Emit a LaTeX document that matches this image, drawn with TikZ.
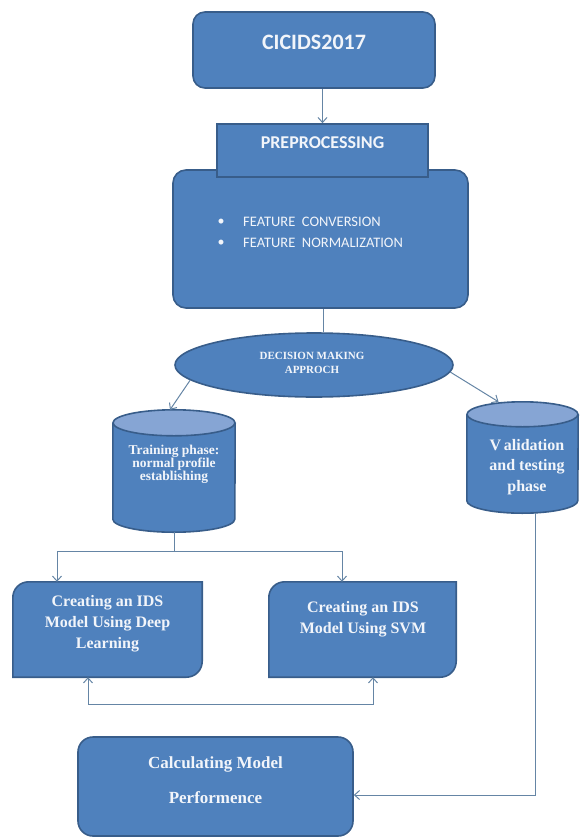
\documentclass[tikz,border=0pt]{standalone}
\usepackage{fontspec}
\setmainfont{Liberation Serif}
\newfontfamily\calib{Carlito}
\usetikzlibrary{arrows.meta,shapes.geometric,calc}
\definecolor{fillc}{HTML}{4F81BD}
\definecolor{bordc}{HTML}{385D8A}
\definecolor{topc}{HTML}{86A5D4}
\definecolor{linec}{HTML}{6585A5}
\definecolor{txtc}{HTML}{F2F5FA}
\begin{document}
\begin{tikzpicture}[x=1pt,y=-1pt,
  box/.style={draw=bordc, fill=fillc, line width=1.6pt, inner sep=0pt},
  shapebox/.style={inner sep=0pt, draw=none},
  conn/.style={draw=linec, line width=1pt},
  arr/.style={conn, -{Straight Barb[length=5pt,width=9pt]}},
  biarr/.style={conn, {Straight Barb[length=5pt,width=9pt]}-{Straight Barb[length=5pt,width=9pt]}},
  lbl/.style={text=txtc, align=center, inner sep=0pt},
  sanslbl/.style={lbl, font=\calib\bfseries\fontsize{22}{26}\selectfont},
  serlbl/.style={lbl, font=\bfseries\fontsize{16}{21}\selectfont},
]
\useasboundingbox (0,0) rectangle (579,838);

% top boxes
\node[box, rounded corners=12pt, minimum width=242pt, minimum height=76pt] (cic) at (314,50) {};
\node[sanslbl] (cict) at (314,42) {CICIDS2017};

\node[box, rounded corners=13pt, minimum width=295pt, minimum height=138pt] (big) at (320.5,239) {};
\node[box, minimum width=211pt, minimum height=53pt] (pre) at (322.5,150.5) {};
\node[sanslbl, font=\calib\bfseries\fontsize{18}{22}\selectfont] (pret) at (322.5,143) {PREPROCESSING};

\node[lbl, font=\calib\fontsize{14}{16}\selectfont] (b1) at (221,222) {•};
\node[lbl, font=\calib\fontsize{14}{16}\selectfont] (b2) at (221,243) {•};
\node[lbl, anchor=west, font=\calib\fontsize{14.5}{16}\selectfont] (f1) at (243,222) {FEATURE\ \ CONVERSION};
\node[lbl, anchor=west, font=\calib\fontsize{14.5}{16}\selectfont] (f2) at (243,243) {FEATURE\ \ NORMALIZATION};

% decision ellipse
\node[box, ellipse, minimum width=278pt, minimum height=64pt] (ell) at (314,365) {};
\node[lbl, font=\bfseries\fontsize{11}{14}\selectfont] (ellt) at (312,363) {DECISION MAKING\\APPROCH};

% cylinders
\node[shapebox, minimum width=122pt, minimum height=122pt] (trn) at (174,471) {};
\fill[fillc] ([yshift=-13pt]trn.north west) -- ([yshift=13pt]trn.south west)
  arc[start angle=180, end angle=360, x radius=61pt, y radius=13pt]
  -- ([yshift=-13pt]trn.north east) -- cycle;
\draw[draw=bordc, line width=1.6pt] ([yshift=-13pt]trn.north west) -- ([yshift=13pt]trn.south west)
  arc[start angle=180, end angle=360, x radius=61pt, y radius=13pt]
  -- ([yshift=-13pt]trn.north east);
\draw[draw=bordc, fill=topc, line width=1.6pt] ([yshift=-13pt]trn.north) ellipse[x radius=61pt, y radius=13pt];
\node[lbl, font=\bfseries\fontsize{13.5}{13}\selectfont] (trnt) at (174,464) {Training phase:\\normal profile\\establishing};

\node[shapebox, minimum width=111pt, minimum height=111pt] (val) at (522.5,457.5) {};
\fill[fillc] ([yshift=-12.5pt]val.north west) -- ([yshift=12.5pt]val.south west)
  arc[start angle=180, end angle=360, x radius=55.5pt, y radius=12.5pt]
  -- ([yshift=-12.5pt]val.north east) -- cycle;
\draw[draw=bordc, line width=1.6pt] ([yshift=-12.5pt]val.north west) -- ([yshift=12.5pt]val.south west)
  arc[start angle=180, end angle=360, x radius=55.5pt, y radius=12.5pt]
  -- ([yshift=-12.5pt]val.north east);
\draw[draw=bordc, fill=topc, line width=1.6pt] ([yshift=-12.5pt]val.north) ellipse[x radius=55.5pt, y radius=12.5pt];
\node[serlbl, font=\bfseries\fontsize{16}{20.5}\selectfont] (valt) at (527,467) {V\,alidation\\and testing\\phase};

% model boxes (diagonal rounded corners)
\node[shapebox, minimum width=189pt, minimum height=95pt] (dl) at (107.5,629.5) {};
\draw[box] (dl.south west) -- ([yshift=-16pt]dl.north west)
  .. controls ([yshift=-7pt]dl.north west) and ([xshift=7pt]dl.north west) .. ([xshift=16pt]dl.north west)
  -- (dl.north east) -- ([yshift=16pt]dl.south east)
  .. controls ([yshift=7pt]dl.south east) and ([xshift=-7pt]dl.south east) .. ([xshift=-16pt]dl.south east) -- cycle;
\node[serlbl] (dlt) at (107.5,624) {Creating an IDS\\Model Using Deep\\Learning};

\node[shapebox, minimum width=187pt, minimum height=95pt] (svm) at (362.5,629.5) {};
\draw[box] (svm.south west) -- ([yshift=-16pt]svm.north west)
  .. controls ([yshift=-7pt]svm.north west) and ([xshift=7pt]svm.north west) .. ([xshift=16pt]svm.north west)
  -- (svm.north east) -- ([yshift=16pt]svm.south east)
  .. controls ([yshift=7pt]svm.south east) and ([xshift=-7pt]svm.south east) .. ([xshift=-16pt]svm.south east) -- cycle;
\node[serlbl] (svmt) at (363,619.5) {Creating an IDS\\Model Using SVM};

% calculating box
\node[box, rounded corners=15pt, minimum width=275pt, minimum height=99pt] (calc) at (215.5,786.5) {};
\node[serlbl, font=\bfseries\fontsize{17}{35}\selectfont] (calct) at (215.5,780.5) {Calculating Model\\Performence};

% connectors
\coordinate (jl) at (57,551);
\coordinate (jr) at (342,551);
\coordinate (bl) at (88,704);
\coordinate (br) at (373,704);
\coordinate (vturn) at (535,795);

\draw[arr] (cic.south -| pre.north) -- (pre.north);
\draw[conn] ([xshift=2.5pt]big.south) -- ([xshift=2.5pt]big.south |- ell.north);
\draw[arr] (ell.187) -- ([xshift=-4pt]trn.north);
\draw[arr] (ell.-3) -- ([xshift=-24pt]val.north);
\draw[conn] (trn.south) -- (trn.south |- jl);
\draw[biarr] (dl.north -| jl) -- (jl) -- (jr) -- (svm.north -| jr);
\draw[biarr] (dl.south -| bl) -- (bl) -- (br) -- (svm.south -| br);
\draw[arr] (val.south -| vturn) -- (vturn) -- (calc.east |- vturn);
\end{tikzpicture}
\end{document}
